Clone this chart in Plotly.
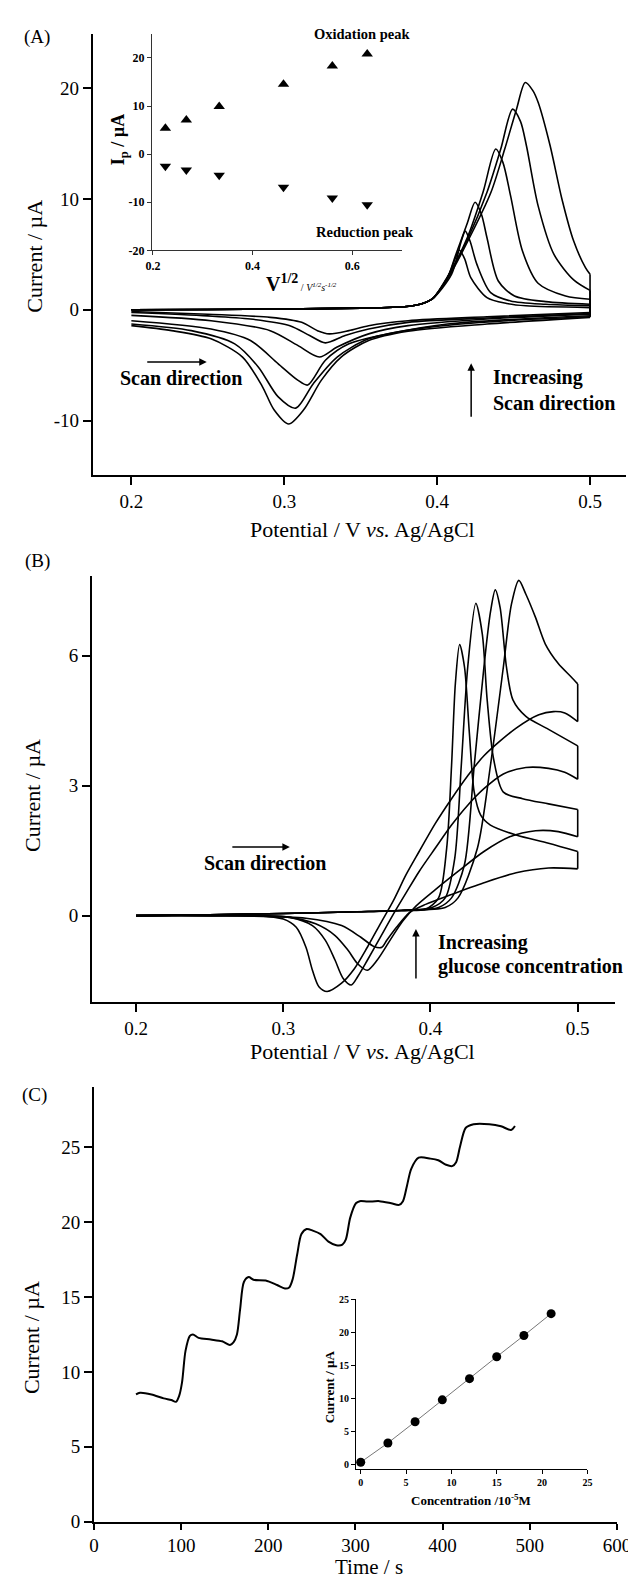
import plotly.graph_objects as go

FONT = "Liberation Serif"
W, H = 636, 1582

# ---------------- Panel A data (potential V, current uA) ----------------
A1_E_fwd = [0.2, 0.25, 0.3, 0.35, 0.38, 0.39, 0.397, 0.4068, 0.412, 0.4145, 0.418, 0.422, 0.4326, 0.4455, 0.458, 0.5]
A1_I_fwd = [0.0, 0.03, 0.08, 0.15, 0.3, 0.55, 1.0, 2.9, 4.7, 5.4, 4.6, 2.9, 1.1, 0.57, 0.36, 0.2]
A1_E_rev = [0.5, 0.4326, 0.381, 0.3552, 0.3423, 0.3294, 0.3217, 0.3114, 0.2908, 0.25, 0.2]
A1_I_rev = [-0.24, -0.63, -0.98, -1.43, -1.88, -2.17, -1.88, -1.13, -0.68, -0.4, -0.15]

A2_E_fwd = [0.2, 0.25, 0.3, 0.35, 0.38, 0.39, 0.397, 0.4094, 0.4158, 0.4184, 0.4215, 0.426, 0.435, 0.448, 0.471, 0.5]
A2_I_fwd = [0.0, 0.03, 0.08, 0.15, 0.3, 0.55, 1.0, 3.2, 6.2, 7.1, 6.2, 4.1, 1.55, 0.8, 0.5, 0.36]
A2_E_rev = [0.5, 0.4326, 0.381, 0.3552, 0.3398, 0.3269, 0.3166, 0.3037, 0.2779, 0.25, 0.2]
A2_I_rev = [-0.33, -0.74, -1.13, -1.73, -2.32, -2.98, -2.32, -1.43, -0.83, -0.55, -0.24]

A3_E_fwd = [0.2, 0.25, 0.3, 0.35, 0.38, 0.39, 0.397, 0.4068, 0.412, 0.4197, 0.4248, 0.429, 0.4326, 0.44, 0.4506, 0.471, 0.5]
A3_I_fwd = [0.0, 0.03, 0.08, 0.15, 0.3, 0.55, 1.0, 2.9, 4.9, 7.8, 9.7, 8.6, 6.5, 2.6, 1.25, 0.74, 0.5]
A3_E_rev = [0.5, 0.4326, 0.381, 0.3552, 0.3346, 0.323, 0.3088, 0.2908, 0.2521, 0.2]
A3_I_rev = [-0.39, -0.83, -1.43, -2.17, -3.36, -4.26, -3.21, -1.88, -0.98, -0.5]

A4_E_fwd = [0.2, 0.25, 0.3, 0.35, 0.38, 0.39, 0.397, 0.4068, 0.4197, 0.43, 0.4383, 0.443, 0.448, 0.4558, 0.466, 0.484, 0.5]
A4_I_fwd = [0.0, 0.03, 0.08, 0.15, 0.3, 0.55, 1.0, 3.0, 6.5, 10.6, 14.5, 13.3, 10.3, 5.3, 2.4, 1.25, 0.95]
A4_E_rev = [0.5, 0.4068, 0.3681, 0.3423, 0.3269, 0.3153, 0.3088, 0.2959, 0.2779, 0.2521, 0.2]
A4_I_rev = [-0.54, -1.28, -2.17, -3.07, -4.55, -6.79, -6.34, -4.85, -2.77, -1.73, -0.98]

A5_E_fwd = [0.2, 0.25, 0.3, 0.35, 0.38, 0.39, 0.397, 0.4068, 0.4197, 0.4326, 0.4416, 0.4493, 0.4545, 0.4584, 0.466, 0.4764, 0.4893, 0.5]
A5_I_fwd = [0.0, 0.03, 0.08, 0.15, 0.3, 0.55, 1.0, 2.9, 6.3, 10.6, 14.5, 18.1, 17.0, 14.8, 9.4, 5.0, 2.7, 1.75]
A5_E_rev = [0.5, 0.4455, 0.3939, 0.3552, 0.3346, 0.3191, 0.3075, 0.2959, 0.283, 0.2676, 0.2392, 0.2]
A5_I_rev = [-0.63, -0.98, -1.58, -2.62, -4.26, -6.64, -8.87, -7.83, -5.15, -3.07, -1.88, -1.28]

A6_E_fwd = [0.2, 0.25, 0.3, 0.35, 0.38, 0.39, 0.397, 0.4068, 0.4197, 0.4352, 0.4442, 0.4519, 0.4576, 0.4625, 0.4661, 0.4739, 0.4816, 0.4893, 0.497, 0.5]
A6_I_fwd = [0.0, 0.03, 0.08, 0.15, 0.3, 0.55, 1.0, 2.8, 6.1, 10.6, 14.5, 18.1, 20.5, 19.8, 18.7, 14.8, 10.0, 6.2, 3.8, 3.2]
A6_E_rev = [0.5, 0.4326, 0.381, 0.3552, 0.3372, 0.3243, 0.3127, 0.3029, 0.2933, 0.2856, 0.2727, 0.2521, 0.2263, 0.2]
A6_I_rev = [-0.68, -1.28, -1.93, -2.77, -4.26, -6.34, -9.02, -10.3, -9.02, -6.9, -4.26, -2.62, -1.88, -1.43]

# Inset A: peak current vs sqrt(scan rate)
INSET_A_SQRT_V = [0.225, 0.267, 0.333, 0.462, 0.56, 0.63]
INSET_A_OX = [5.4, 7.1, 9.9, 14.5, 18.3, 20.8]
INSET_A_RED = [-2.5, -3.3, -4.4, -6.9, -9.1, -10.5]

# ---------------- Panel B data ----------------
B1_E_fwd = [0.2, 0.25, 0.3, 0.35, 0.38, 0.3967, 0.4055, 0.411, 0.4143, 0.4169, 0.4198, 0.4231, 0.4264, 0.4297, 0.4341, 0.4407, 0.4582, 0.4802, 0.5]
B1_I_fwd = [0.0, 0.02, 0.05, 0.09, 0.12, 0.15, 0.41, 1.56, 3.46, 5.36, 6.26, 5.74, 4.22, 2.85, 2.32, 2.09, 1.86, 1.67, 1.48]
B1_E_rev = [0.5, 0.4802, 0.4582, 0.4363, 0.4143, 0.3967, 0.3857, 0.3769, 0.3703, 0.367, 0.3615, 0.3527, 0.3396, 0.3154, 0.25, 0.2]
B1_I_rev = [1.08, 1.10, 0.99, 0.76, 0.49, 0.26, 0.07, -0.27, -0.57, -0.73, -0.71, -0.50, -0.23, -0.06, 0.0, 0.0]

B2_E_fwd = [0.2, 0.25, 0.3, 0.35, 0.38, 0.4011, 0.41, 0.4165, 0.4209, 0.4253, 0.4308, 0.4352, 0.4385, 0.4429, 0.4495, 0.4626, 0.4802, 0.5]
B2_I_fwd = [0.0, 0.02, 0.05, 0.09, 0.12, 0.19, 0.41, 1.33, 3.46, 5.74, 7.21, 6.5, 4.98, 3.61, 2.85, 2.70, 2.58, 2.45]
B2_E_rev = [0.5, 0.4868, 0.4714, 0.4538, 0.4363, 0.4187, 0.4033, 0.3901, 0.3813, 0.3725, 0.3637, 0.3571, 0.3505, 0.344, 0.3352, 0.322, 0.3044, 0.25, 0.2]
B2_I_rev = [1.82, 1.94, 1.96, 1.82, 1.48, 1.02, 0.60, 0.22, -0.12, -0.57, -1.03, -1.26, -1.11, -0.80, -0.46, -0.19, -0.04, 0.0, 0.0]

B3_E_fwd = [0.2, 0.25, 0.3, 0.35, 0.38, 0.4055, 0.4143, 0.4231, 0.4297, 0.4363, 0.4407, 0.444, 0.4473, 0.4516, 0.456, 0.4648, 0.4802, 0.5]
B3_I_fwd = [0.0, 0.02, 0.05, 0.09, 0.12, 0.19, 0.41, 1.18, 3.46, 5.74, 7.0, 7.52, 7.11, 5.74, 4.98, 4.6, 4.3, 3.92]
B3_E_rev = [0.5, 0.4912, 0.4802, 0.4648, 0.4495, 0.4363, 0.4253, 0.4143, 0.4033, 0.3923, 0.3835, 0.3747, 0.3659, 0.3571, 0.3505, 0.3462, 0.3407, 0.3352, 0.3286, 0.3198, 0.3044, 0.25, 0.2]
B3_I_rev = [3.15, 3.31, 3.40, 3.42, 3.27, 2.93, 2.55, 2.09, 1.56, 1.02, 0.53, 0.03, -0.50, -1.03, -1.41, -1.60, -1.45, -1.03, -0.57, -0.23, -0.04, 0.0, 0.0]

B4_E_fwd = [0.2, 0.25, 0.3, 0.35, 0.38, 0.41, 0.4187, 0.4319, 0.4407, 0.4495, 0.455, 0.46, 0.4648, 0.4714, 0.478, 0.4868, 0.4956, 0.5]
B4_I_fwd = [0.0, 0.02, 0.05, 0.09, 0.12, 0.19, 0.41, 1.56, 3.46, 5.74, 7.19, 7.74, 7.42, 6.88, 6.27, 5.82, 5.51, 5.35]
B4_E_rev = [0.5, 0.4912, 0.4835, 0.4736, 0.4582, 0.4363, 0.4253, 0.4143, 0.4033, 0.3923, 0.3835, 0.3747, 0.3659, 0.3571, 0.3484, 0.3396, 0.3297, 0.3242, 0.3198, 0.3154, 0.3088, 0.3, 0.2824, 0.25, 0.2]
B4_I_rev = [4.48, 4.68, 4.71, 4.64, 4.33, 3.69, 3.23, 2.70, 2.13, 1.48, 0.95, 0.34, -0.19, -0.73, -1.22, -1.56, -1.75, -1.64, -1.26, -0.73, -0.27, -0.08, 0.0, 0.0, 0.0]

# ---------------- Panel C data (amperometric response) ----------------
C_TIME = [48.2, 52.7, 66, 80, 88.7, 94, 97.7, 101, 105, 110, 113.5, 120, 134, 147, 156, 160, 164, 167.6, 172, 177.5,
          183, 197, 210, 219, 224, 228, 233, 238, 244, 251, 260, 269, 278, 285, 289, 294, 300.5, 305, 314, 327.5,
          341, 350, 354.5, 359, 364, 372.5, 386, 395, 404, 411, 415.5, 420, 426.6, 435.5, 453.6, 467, 478.5, 483]
C_CURRENT = [8.49, 8.6, 8.49, 8.23, 8.12, 8.0, 8.4, 9.3, 11.4, 12.4, 12.5, 12.27, 12.16, 12.04, 11.8, 11.97, 12.5, 14.15, 16.0, 16.33,
             16.15, 16.1, 15.8, 15.57, 15.64, 16.2, 17.8, 19.2, 19.54, 19.43, 19.2, 18.7, 18.46, 18.5, 18.85, 20.3, 21.26, 21.4, 21.37, 21.4,
             21.26, 21.15, 21.4, 22.4, 23.56, 24.3, 24.24, 24.13, 23.83, 23.74, 24.0, 25.05, 26.3, 26.54, 26.54, 26.4, 26.15, 26.42]

# Inset C: calibration
INSET_C_CONC = [0, 3, 6, 9, 12, 15, 18, 21]
INSET_C_CURRENT = [0.4, 3.3, 6.5, 9.8, 13.0, 16.3, 19.5, 22.8]

# ---------------- tick labels ----------------
A_XTICKS = [0.2, 0.3, 0.4, 0.5]
A_XLABELS = ["0.2", "0.3", "0.4", "0.5"]
A_YTICKS = [20, 10, 0, -10]
A_YLABELS = ["20", "10", "0", "-10"]
IA_XTICKS = [0.2, 0.4, 0.6]
IA_XLABELS = ["0.2", "0.4", "0.6"]
IA_YTICKS = [20, 10, 0, -10, -20]
IA_YLABELS = ["20", "10", "0", "-10", "-20"]
B_XTICKS = [0.2, 0.3, 0.4, 0.5]
B_XLABELS = ["0.2", "0.3", "0.4", "0.5"]
B_YTICKS = [6, 3, 0]
B_YLABELS = ["6", "3", "0"]
C_XTICKS = [0, 100, 200, 300, 400, 500, 600]
C_YTICKS = [0, 5, 10, 15, 20, 25]
IC_TICKS = [0, 5, 10, 15, 20, 25]


def px(x):
    return x / W


def py(y):
    return 1 - y / H


fig = go.Figure()


def add_line(xs, ys, xa, ya, width=1.6, color="black", spline=True):
    line = dict(color=color, width=width)
    if spline:
        line.update(shape="spline", smoothing=0.8)
    fig.add_trace(go.Scatter(x=xs, y=ys, mode="lines", line=line, xaxis=xa, yaxis=ya,
                             showlegend=False, hoverinfo="skip"))


def add_cv(ef, i_f, er, i_r, xa, ya):
    add_line(ef, i_f, xa, ya)
    add_line([ef[-1], er[0]], [i_f[-1], i_r[0]], xa, ya, spline=False)
    add_line(er, i_r, xa, ya)


for ef, i_f, er, i_r in [(A1_E_fwd, A1_I_fwd, A1_E_rev, A1_I_rev),
                         (A2_E_fwd, A2_I_fwd, A2_E_rev, A2_I_rev),
                         (A3_E_fwd, A3_I_fwd, A3_E_rev, A3_I_rev),
                         (A4_E_fwd, A4_I_fwd, A4_E_rev, A4_I_rev),
                         (A5_E_fwd, A5_I_fwd, A5_E_rev, A5_I_rev),
                         (A6_E_fwd, A6_I_fwd, A6_E_rev, A6_I_rev)]:
    add_cv(ef, i_f, er, i_r, "x", "y")

fig.add_trace(go.Scatter(x=INSET_A_SQRT_V, y=INSET_A_OX, mode="markers", xaxis="x2", yaxis="y2",
                         marker=dict(symbol="triangle-up", size=10, color="black"), showlegend=False, hoverinfo="skip"))
fig.add_trace(go.Scatter(x=INSET_A_SQRT_V, y=INSET_A_RED, mode="markers", xaxis="x2", yaxis="y2",
                         marker=dict(symbol="triangle-down", size=10, color="black"), showlegend=False, hoverinfo="skip"))

for ef, i_f, er, i_r in [(B1_E_fwd, B1_I_fwd, B1_E_rev, B1_I_rev),
                         (B2_E_fwd, B2_I_fwd, B2_E_rev, B2_I_rev),
                         (B3_E_fwd, B3_I_fwd, B3_E_rev, B3_I_rev),
                         (B4_E_fwd, B4_I_fwd, B4_E_rev, B4_I_rev)]:
    add_cv(ef, i_f, er, i_r, "x3", "y3")

add_line(C_TIME, C_CURRENT, "x4", "y4", width=2.0)

add_line(INSET_C_CONC, INSET_C_CURRENT, "x5", "y5", width=1.0, color="#777777", spline=False)
fig.add_trace(go.Scatter(x=INSET_C_CONC, y=INSET_C_CURRENT, mode="markers", xaxis="x5", yaxis="y5",
                         marker=dict(symbol="circle", size=9, color="black"), showlegend=False, hoverinfo="skip"))


def main_axis(domain, rng, anchor, tickvals, ticktext=None, size=19, ticklen=8):
    d = dict(domain=domain, range=rng, anchor=anchor, showline=True, linecolor="black", linewidth=2,
             ticks="outside", ticklen=ticklen, tickwidth=2, tickcolor="black", tickvals=tickvals,
             tickfont=dict(family=FONT, size=size, color="black"), showgrid=False, zeroline=False)
    if ticktext is not None:
        d["ticktext"] = ticktext
    return d


def inset_axis(domain, rng, anchor, tickvals, ticktext=None, size=11, color="#333333"):
    d = dict(domain=domain, range=rng, anchor=anchor, showline=True, linecolor=color, linewidth=1,
             ticks="outside", ticklen=4, tickwidth=1, tickcolor=color, tickvals=tickvals,
             tickfont=dict(family=FONT, size=size, color="black", weight=700), showgrid=False, zeroline=False)
    if ticktext is not None:
        d["ticktext"] = ticktext
    return d


layout = dict(
    width=W, height=H, margin=dict(l=0, r=0, t=0, b=0),
    paper_bgcolor="white", plot_bgcolor="rgba(0,0,0,0)",
    font=dict(family=FONT, color="black"),
    showlegend=False,
    xaxis=main_axis([px(81.4), px(632)], [0.1748, 0.5236], "y", A_XTICKS, A_XLABELS),
    yaxis=main_axis([py(466), py(20)], [-14.9, 24.9], "x", A_YTICKS, A_YLABELS),
    xaxis2=inset_axis([px(142.4), px(400.7)], [0.198, 0.7], "y2", IA_XTICKS, IA_XLABELS, size=12),
    yaxis2=inset_axis([py(239), py(20)], [-20, 25], "x2", IA_YTICKS, IA_YLABELS, size=12),
    xaxis3=main_axis([px(80.6), px(620)], [0.1701, 0.525], "y3", B_XTICKS, B_XLABELS),
    yaxis3=main_axis([py(999), py(567.7)], [-2.0, 7.85], "x3", B_YTICKS, B_YLABELS),
    xaxis4=main_axis([px(82.6), px(622.5)], [0, 600], "y4", C_XTICKS, ticklen=6),
    yaxis4=main_axis([py(1524), py(1085)], [0, 29], "x4", C_YTICKS),
    xaxis5=inset_axis([px(353), px(592)], [-0.53, 25], "y5", IC_TICKS, size=10, color="black"),
    yaxis5=inset_axis([py(1471), py(1299)], [-0.65, 25], "x5", IC_TICKS, size=10, color="black"),
)

ann = []


def text(x, y, s, size, bold=False, angle=0, xanchor="center"):
    ann.append(dict(x=px(x), y=py(y), xref="paper", yref="paper", text=("<b>%s</b>" % s) if bold else s,
                    showarrow=False, textangle=angle, xanchor=xanchor, yanchor="middle",
                    font=dict(family=FONT, size=size, color="black")))


def arrow(x_head, y_head, dx, dy, width=1.5):
    ann.append(dict(x=px(x_head), y=py(y_head), xref="paper", yref="paper", text="", showarrow=True,
                    ax=dx, ay=dy, arrowhead=2, arrowsize=1, arrowwidth=width, arrowcolor="black"))


# Panel A texts
text(23.5, 23, "(A)", 19)
text(21, 245, "Current / µA", 22, angle=-90)
text(360, 521, "Potential / V <i>vs.</i> Ag/AgCl", 22)
arrow(199, 351.7, -61, 0)
text(172, 367.7, "Scan direction", 20, bold=True)
arrow(472, 353, 0, 55)
text(492, 367.7, "Increasing", 20, bold=True, xanchor="left")
text(492, 393.3, "Scan direction", 20, bold=True, xanchor="left")
# inset A texts
text(359, 20.7, "Oxidation peak", 14.5, bold=True)
text(362, 220.7, "Reduction peak", 14.5, bold=True)
text(109, 127, "I<sub>p</sub> / µA", 18, bold=True, angle=-90)
text(297, 272, "V<sup>1/2</sup><span style='font-size:10px;font-weight:normal'> / <i>V<sup>1/2</sup>s<sup>-1/2</sup></i></span>", 20, bold=True)

# Panel B texts
text(24.5, 553, "(B)", 19)
text(19, 790, "Current / µA", 22, angle=-90)
text(360, 1049, "Potential / V <i>vs.</i> Ag/AgCl", 22)
arrow(284.8, 842, -59, 0)
text(258.7, 858, "Scan direction", 20, bold=True)
arrow(415, 925, 0, 51)
text(436, 939, "Increasing", 20, bold=True, xanchor="left")
text(436, 962.5, "glucose concentration", 20, bold=True, xanchor="left")

# Panel C texts
text(21, 1093, "(C)", 19)
text(18, 1338, "Current / µA", 22, angle=-90)
text(367, 1570, "Time / s", 21)
text(325.5, 1388, "Current / µA", 13, bold=True, angle=-90)
text(472, 1502.6, "Concentration /10<sup>-5</sup>M", 13, bold=True)

layout["annotations"] = ann
fig.update_layout(**layout)
fig.write_html("out.html")
